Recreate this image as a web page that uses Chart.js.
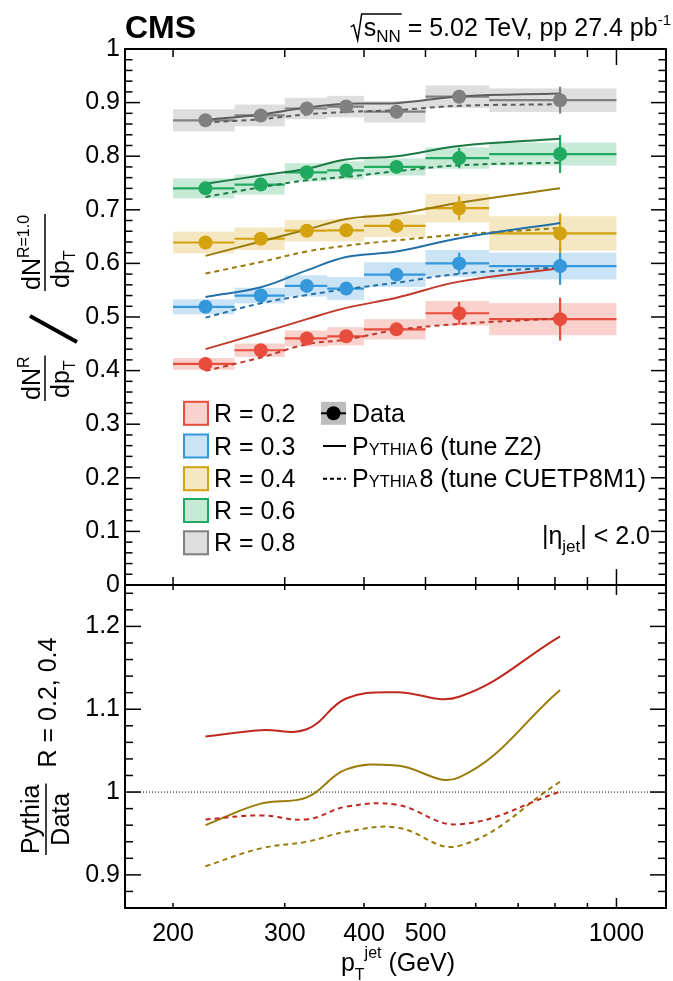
<!DOCTYPE html>
<html>
<head>
<meta charset="utf-8">
<script src="https://cdn.jsdelivr.net/npm/chart.js@4.4.0/dist/chart.umd.min.js"></script>
<style>
  html, body { margin: 0; padding: 0; background: #fff; overflow: hidden; }
  canvas { display: block; }
</style>
</head>
<body>
<canvas id="myChart" width="673" height="981"></canvas>
<script>
// jet pT bins (GeV) and the points drawn at the bin centres
const ptEdges = [200, 250, 300, 350, 400, 500, 630, 1000];
const ptCenters = [225, 275, 325, 375, 450, 565, 815];
const xTicks = [200, 300, 400, 500, 1000];
const topYTicks = [0, 0.1, 0.2, 0.3, 0.4, 0.5, 0.6, 0.7, 0.8, 0.9, 1];
const ratioYTicks = [0.9, 1, 1.1, 1.2];

// ratio dN^R/dpT / dN^{R=1.0}/dpT, data with stat and syst uncertainty
const dataR02 = [0.4125, 0.438, 0.460, 0.464, 0.477, 0.507, 0.496];
const statR02 = [0.003, 0.004, 0.005, 0.006, 0.008, 0.021, 0.040];
const systR02 = [0.011, 0.0125, 0.015, 0.017, 0.019, 0.023, 0.030];
const py6R02 = [0.440, 0.470, 0.496, 0.517, 0.536, 0.566, 0.591];
const py8R02 = [0.3995, 0.4245, 0.449, 0.458, 0.4757, 0.487, 0.4975];

const dataR03 = [0.519, 0.540, 0.558, 0.553, 0.579, 0.600, 0.595];
const statR03 = [0.003, 0.004, 0.005, 0.006, 0.008, 0.020, 0.035];
const systR03 = [0.014, 0.0146, 0.020, 0.0215, 0.023, 0.025, 0.025];
const py6R03 = [0.5375, 0.5556, 0.587, 0.612, 0.622, 0.647, 0.6754];
const py8R03 = [0.4988, 0.5256, 0.541, 0.552, 0.564, 0.5805, 0.593];

const dataR04 = [0.639, 0.646, 0.661, 0.6617, 0.670, 0.703, 0.656];
const statR04 = [0.003, 0.004, 0.005, 0.006, 0.008, 0.022, 0.037];
const systR04 = [0.0203, 0.021, 0.020, 0.021, 0.021, 0.0265, 0.032];
const py6R04 = [0.614, 0.641, 0.663, 0.683, 0.692, 0.713, 0.740];
const py8R04 = [0.581, 0.6027, 0.6223, 0.633, 0.643, 0.6536, 0.666];

const dataR06 = [0.740, 0.747, 0.770, 0.7734, 0.780, 0.7965, 0.804];
const statR06 = [0.003, 0.004, 0.005, 0.006, 0.008, 0.019, 0.0355];
const systR06 = [0.0187, 0.0187, 0.017, 0.017, 0.016, 0.020, 0.0215];
const py6R06 = [0.7485, 0.764, 0.7765, 0.794, 0.800, 0.819, 0.8327];
const py8R06 = [0.724, 0.742, 0.755, 0.7615, 0.772, 0.783, 0.788];

const dataR08 = [0.867, 0.876, 0.889, 0.8926, 0.883, 0.911, 0.9045];
const statR08 = [0.003, 0.004, 0.005, 0.006, 0.008, 0.012, 0.025];
const systR08 = [0.0206, 0.0203, 0.020, 0.020, 0.020, 0.021, 0.022];
const py6R08 = [0.8676, 0.8777, 0.8908, 0.898, 0.899, 0.9114, 0.917];
const py8R08 = [0.8627, 0.869, 0.878, 0.8826, 0.886, 0.894, 0.897];

// lower panel: Pythia / Data for R = 0.2 and 0.4
const ratioPy6R02 = [1.067, 1.0746, 1.0758, 1.113, 1.1206, 1.115, 1.188];
const ratioPy8R02 = [0.967, 0.9718, 0.967, 0.9823, 0.9847, 0.961, 1.0004];
const ratioPy6R04 = [0.960, 0.986, 0.9936, 1.0274, 1.032, 1.0178, 1.1233];
const ratioPy8R04 = [0.9105, 0.932, 0.940, 0.952, 0.9573, 0.935, 1.0125];

const FONT = '"Liberation Sans", Arial, Helvetica, sans-serif';

const series = [
  { label: 'R = 0.2', data: dataR02, stat: statR02, syst: systR02, py6: py6R02, py8: py8R02,
    color: '#e74c3c', fill: 'rgba(231,76,60,0.26)', mc: '#c0392b' },
  { label: 'R = 0.3', data: dataR03, stat: statR03, syst: systR03, py6: py6R03, py8: py8R03,
    color: '#3498db', fill: 'rgba(52,152,219,0.26)', mc: '#2370a8' },
  { label: 'R = 0.4', data: dataR04, stat: statR04, syst: systR04, py6: py6R04, py8: py8R04,
    color: '#d4a20f', fill: 'rgba(212,162,15,0.26)', mc: '#9a7b0a' },
  { label: 'R = 0.6', data: dataR06, stat: statR06, syst: systR06, py6: py6R06, py8: py8R06,
    color: '#1faa5f', fill: 'rgba(31,170,95,0.25)', mc: '#1b7a45' },
  { label: 'R = 0.8', data: dataR08, stat: statR08, syst: systR08, py6: py6R08, py8: py8R08,
    color: '#808080', fill: 'rgba(128,128,128,0.26)', mc: '#5e5e5e' }
];

function pts(vals) {
  return ptCenters.map((x, i) => ({ x: x, y: vals[i] }));
}

const datasets = [];
series.forEach(s => {
  datasets.push({ data: pts(s.data), yAxisID: 'yTop', pointRadius: 7, pointBackgroundColor: s.color,
    pointBorderWidth: 0, showLine: false });
});
series.forEach(s => {
  datasets.push({ data: pts(s.py6), yAxisID: 'yTop', showLine: true, borderColor: s.mc, borderWidth: 2,
    pointRadius: 0, tension: 0.4 });
  datasets.push({ data: pts(s.py8), yAxisID: 'yTop', showLine: true, borderColor: s.mc, borderWidth: 2,
    borderDash: [5, 4], pointRadius: 0, tension: 0.4 });
});
datasets.push({ data: pts(ratioPy6R02), yAxisID: 'yBot', showLine: true, borderColor: '#c0281e', borderWidth: 2, pointRadius: 0, tension: 0.4 });
datasets.push({ data: pts(ratioPy8R02), yAxisID: 'yBot', showLine: true, borderColor: '#c0281e', borderWidth: 2, borderDash: [5, 4], pointRadius: 0, tension: 0.4 });
datasets.push({ data: pts(ratioPy6R04), yAxisID: 'yBot', showLine: true, borderColor: '#9a7b0a', borderWidth: 2, pointRadius: 0, tension: 0.4 });
datasets.push({ data: pts(ratioPy8R04), yAxisID: 'yBot', showLine: true, borderColor: '#9a7b0a', borderWidth: 2, borderDash: [5, 4], pointRadius: 0, tension: 0.4 });

function fmt(v) { return String(Number(v.toFixed(2))); }

// text with sub/superscripts: parts = [text, size, dy, bold]
function rich(ctx, parts, x, y, align) {
  let w = 0;
  parts.forEach(p => { ctx.font = (p[3] ? 'bold ' : '') + p[1] + 'px ' + FONT; w += ctx.measureText(p[0]).width; });
  let cx = align === 'right' ? x - w : (align === 'center' ? x - w / 2 : x);
  const start = cx;
  ctx.textAlign = 'left';
  ctx.textBaseline = 'alphabetic';
  parts.forEach(p => {
    ctx.font = (p[3] ? 'bold ' : '') + p[1] + 'px ' + FONT;
    ctx.fillText(p[0], cx, y + (p[2] || 0));
    cx += ctx.measureText(p[0]).width;
  });
  return { start: start, width: w };
}

function partsWidth(ctx, parts) {
  let w = 0;
  parts.forEach(p => { ctx.font = p[1] + 'px ' + FONT; w += ctx.measureText(p[0]).width; });
  return w;
}

function line(ctx, x1, y1, x2, y2) {
  ctx.beginPath(); ctx.moveTo(x1, y1); ctx.lineTo(x2, y2); ctx.stroke();
}

const decorations = {
  id: 'decorations',
  beforeDatasetsDraw(chart) {
    const ctx = chart.ctx;
    const x = chart.scales.x, yT = chart.scales.yTop, yB = chart.scales.yBot;
    ctx.save();
    // systematic boxes
    series.forEach(s => {
      ctx.fillStyle = s.fill;
      s.data.forEach((v, i) => {
        const xl = x.getPixelForValue(ptEdges[i]), xr = x.getPixelForValue(ptEdges[i + 1]);
        const yt = yT.getPixelForValue(v + s.syst[i]), yb = yT.getPixelForValue(v - s.syst[i]);
        ctx.fillRect(xl, yt, xr - xl, yb - yt);
      });
    });
    // bin width and statistical error bars
    series.forEach(s => {
      ctx.strokeStyle = s.color;
      ctx.lineWidth = 2.2;
      s.data.forEach((v, i) => {
        const xl = x.getPixelForValue(ptEdges[i]), xr = x.getPixelForValue(ptEdges[i + 1]);
        const xc = x.getPixelForValue(ptCenters[i]);
        const yc = yT.getPixelForValue(v);
        line(ctx, xl, yc, xr, yc);
        line(ctx, xc, yT.getPixelForValue(v + s.stat[i]), xc, yT.getPixelForValue(v - s.stat[i]));
      });
    });
    // unity line in the ratio panel
    ctx.strokeStyle = '#000';
    ctx.lineWidth = 1;
    ctx.setLineDash([1, 2]);
    const y1 = yB.getPixelForValue(1);
    line(ctx, x.left, y1, x.right, y1);
    ctx.restore();
  },
  afterDraw(chart) {
    const ctx = chart.ctx;
    const x = chart.scales.x, yT = chart.scales.yTop, yB = chart.scales.yBot;
    const L = x.left, R = x.right;
    ctx.save();
    ctx.strokeStyle = '#000';
    ctx.fillStyle = '#000';
    ctx.lineWidth = 2;
    // frames
    ctx.strokeRect(L, yT.top, R - L, yT.bottom - yT.top);
    ctx.strokeRect(L, yB.top, R - L, yB.bottom - yB.top);
    // y ticks
    ctx.lineWidth = 1.5;
    for (let k = 0; k <= 50; k++) {
      const v = k * 0.02, py = yT.getPixelForValue(v), len = k % 5 === 0 ? 15 : 7.5;
      line(ctx, L, py, L + len, py);
      line(ctx, R - len, py, R, py);
    }
    for (let k = 43; k <= 62; k++) {
      const v = k * 0.02, py = yB.getPixelForValue(v), len = k % 5 === 0 ? 16 : 8;
      line(ctx, L, py, L + len, py);
      line(ctx, R - len, py, R, py);
    }
    // x ticks on every frame edge
    [200, 300, 400, 500, 600, 700, 800, 900, 1000].forEach(v => {
      const px = x.getPixelForValue(v);
      const big = v === 1000;
      line(ctx, px, yT.top, px, yT.top + (big ? 16 : 8));
      line(ctx, px, yT.bottom, px, yT.bottom - (big ? 16 : 8));
      line(ctx, px, yB.top, px, yB.top + (big ? 10 : 5));
      line(ctx, px, yB.bottom, px, yB.bottom - (big ? 10 : 5));
    });

    // header
    rich(ctx, [['CMS', 32, 0, true]], L, 38, 'left');
    const hdr = [['s', 25], ['NN', 17, 6], [' = 5.02 TeV, pp 27.4 pb', 25], ['-1', 15, -11]];
    const hw = partsWidth(ctx, hdr);
    const hs = 671 - hw;
    rich(ctx, hdr, hs, 36, 'left');
    ctx.font = '25px ' + FONT;
    const sw = ctx.measureText('s').width;
    ctx.font = '17px ' + FONT;
    const nw = ctx.measureText('NN').width;
    ctx.lineWidth = 1.5;
    ctx.beginPath();
    ctx.moveTo(hs - 13, 27); ctx.lineTo(hs - 10, 25); ctx.lineTo(hs - 6, 40);
    ctx.lineTo(hs - 2, 14); ctx.lineTo(hs + sw + nw + 1, 14);
    ctx.stroke();

    // x title
    rich(ctx, [['p', 25], ['T', 16, 9], ['jet', 16, -13], [' (GeV)', 25]], 398, 971, 'center');

    // |eta| label
    rich(ctx, [['|\u03b7', 25], ['jet', 17, 8], ['| < 2.0', 25]], 650, 544, 'right');

    // legend: R boxes
    const rows = [413.3, 446, 478.7, 510.5, 542.8];
    series.forEach((s, i) => {
      ctx.fillStyle = s.fill;
      ctx.fillRect(184, rows[i] - 11.5, 24, 23);
      ctx.strokeStyle = s.color;
      ctx.lineWidth = 2;
      ctx.strokeRect(184, rows[i] - 11.5, 24, 23);
      ctx.fillStyle = '#000';
      rich(ctx, [[s.label, 25]], 214, rows[i] + 8.5, 'left');
    });
    // legend: data and generators
    ctx.fillStyle = '#bdbdbd';
    ctx.fillRect(321, rows[0] - 11.5, 25, 23);
    ctx.strokeStyle = '#000';
    ctx.lineWidth = 2;
    line(ctx, 321, rows[0], 346, rows[0]);
    ctx.fillStyle = '#000';
    ctx.beginPath(); ctx.arc(333.5, rows[0], 7, 0, 2 * Math.PI); ctx.fill();
    rich(ctx, [['Data', 25]], 352, rows[0] + 8.5, 'left');
    line(ctx, 323, rows[1], 346, rows[1]);
    ctx.setLineDash([4, 3]);
    line(ctx, 323, rows[2], 346, rows[2]);
    ctx.setLineDash([]);
    rich(ctx, [['P', 25], ['YTHIA', 16.5], [' ', 8], ['6 (tune Z2)', 25]], 352, rows[1] + 8.5, 'left');
    rich(ctx, [['P', 25], ['YTHIA', 16.5], [' ', 8], ['8 (tune CUETP8M1)', 25]], 352, rows[2] + 8.5, 'left');

    // y titles (rotated): fillText(t, u, v) lands on screen at (v, -u)
    ctx.save();
    ctx.rotate(-Math.PI / 2);
    function frac(num, den, uStart, vNum, vBar, vDen, centred) {
      const wn = partsWidth(ctx, num), wd = partsWidth(ctx, den);
      const wl = Math.max(wn, wd) + 2;
      if (centred) {
        rich(ctx, num, -uStart + wl / 2, vNum, 'center');
        rich(ctx, den, -uStart + wl / 2, vDen, 'center');
      } else {
        rich(ctx, num, -uStart + 1, vNum, 'left');
        rich(ctx, den, -uStart + 3, vDen, 'left');
      }
      ctx.lineWidth = 1.5;
      ctx.strokeStyle = '#000';
      line(ctx, -uStart, vBar, -uStart + wl, vBar);
    }
    ctx.fillStyle = '#000';
    frac([['dN', 25], ['R', 16, -11]], [['dp', 25], ['T', 16, 6]], 401, 40, 45, 69, false);
    frac([['dN', 25], ['R=1.0', 16, -11]], [['dp', 25], ['T', 16, 6]], 291, 40, 45, 69, false);
    frac([['Pythia', 25]], [['Data', 25]], 855, 39, 46, 69, true);
    rich(ctx, [['R = 0.2, 0.4', 25]], -702.5, 56, 'center');
    ctx.restore();
    // big slash between the two fractions
    ctx.lineWidth = 4;
    ctx.strokeStyle = '#000';
    line(ctx, 30, 316, 77, 342);
    ctx.restore();
  }
};

new Chart(document.getElementById('myChart'), {
  type: 'scatter',
  data: { datasets: datasets },
  options: {
    responsive: false,
    animation: false,
    devicePixelRatio: 1,
    events: [],
    layout: { padding: { top: 49, right: 1, bottom: 0, left: 0 } },
    plugins: { legend: { display: false }, tooltip: { enabled: false } },
    scales: {
      x: {
        type: 'logarithmic', position: 'bottom', min: 168, max: 1197,
        grid: { display: false, drawTicks: false }, border: { display: false },
        ticks: { autoSkip: false, maxRotation: 0, padding: 11, color: '#000',
          font: { family: FONT, size: 25 }, callback: v => String(v) },
        afterBuildTicks: s => { s.ticks = xTicks.map(v => ({ value: v })); },
        afterFit: s => { s.height = 73; }
      },
      yBot: {
        type: 'linear', position: 'left', stack: 'panels', stackWeight: 323,
        min: 0.86, max: 1.25,
        grid: { display: false, drawTicks: false }, border: { display: false },
        ticks: { autoSkip: false, padding: 5, color: '#000', font: { family: FONT, size: 25 }, callback: v => fmt(v) },
        afterBuildTicks: s => { s.ticks = ratioYTicks.map(v => ({ value: v })); },
        afterFit: s => { s.width = 125; }
      },
      yTop: {
        type: 'linear', position: 'left', stack: 'panels', stackWeight: 536,
        min: 0, max: 1,
        grid: { display: false, drawTicks: false }, border: { display: false },
        ticks: { autoSkip: false, padding: 5, color: '#000', font: { family: FONT, size: 25 }, callback: v => fmt(v) },
        afterBuildTicks: s => { s.ticks = topYTicks.map(v => ({ value: v })); },
        afterFit: s => { s.width = 125; }
      }
    }
  },
  plugins: [decorations]
});
</script>
</body>
</html>
